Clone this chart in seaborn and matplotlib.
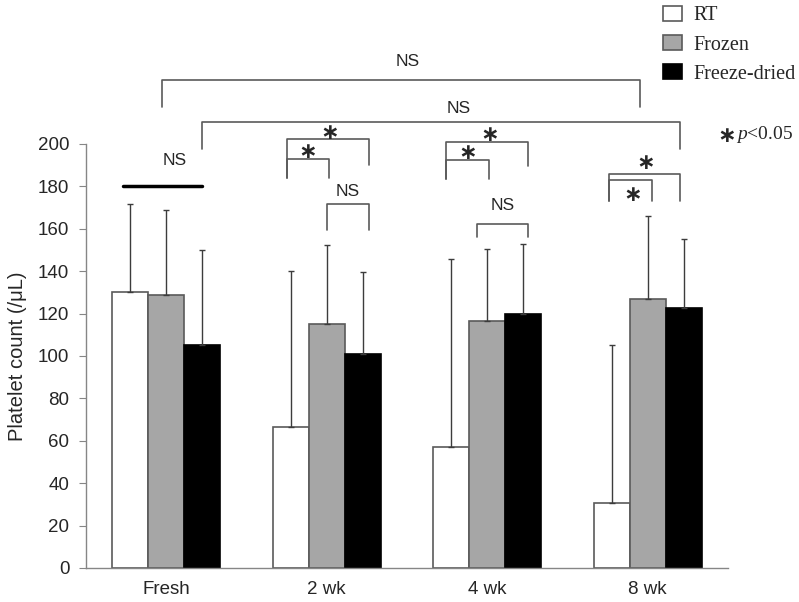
import matplotlib
matplotlib.use("Agg")
import matplotlib.pyplot as plt
import numpy as np
import pandas as pd
import seaborn as sns
from matplotlib.patches import Patch

groups = ["Fresh", "2 wk", "4 wk", "8 wk"]
conditions = ["RT", "Frozen", "Freeze-dried"]
rt_mean = [130, 66.5, 57, 30.5]
frozen_mean = [129, 115, 116.5, 127]
dried_mean = [105, 101, 120, 122.5]
rt_sd = [41.5, 73.7, 88.7, 74.7]
frozen_sd = [40, 37.5, 33.8, 39]
dried_sd = [45, 38.6, 32.8, 32.8]

fill_colors = ["#ffffff", "#a6a6a6", "#000000"]
edge_colors = ["#5a5a5a", "#5a5a5a", "#000000"]

sns.set_style("white")
plt.rcParams["font.family"] = ["Liberation Sans", "DejaVu Sans"]
plt.rcParams["mathtext.fontset"] = "custom"
plt.rcParams["mathtext.it"] = "Liberation Serif:italic"
plt.rcParams["mathtext.rm"] = "Liberation Serif"

df = pd.DataFrame({
    "week": groups * 3,
    "condition": np.repeat(conditions, len(groups)),
    "count": rt_mean + frozen_mean + dried_mean,
})

fig = plt.figure(figsize=(7.99, 6.02), dpi=100)
ax = fig.add_axes([86 / 799, 1 - 568 / 602, 642 / 799, 424 / 602])

sns.barplot(data=df, x="week", y="count", hue="condition", order=groups,
            hue_order=conditions, palette=fill_colors, width=0.67,
            errorbar=None, linewidth=1.2, legend=False, ax=ax)

for container, sd, ec in zip(ax.containers, [rt_sd, frozen_sd, dried_sd], edge_colors):
    xs, ys = [], []
    for bar in container:
        bar.set_edgecolor(ec)
        xs.append(bar.get_x() + bar.get_width() / 2)
        ys.append(bar.get_height())
    ax.errorbar(xs, ys, yerr=[np.zeros(len(sd)), sd], fmt="none",
                ecolor="#3c3c3c", elinewidth=1.0, capsize=2, capthick=1.0, zorder=1)

ax.set_xlim(-0.5, 3.5)
ax.set_ylim(0, 200)
ax.set_yticks(np.arange(0, 201, 20))
ax.set_xticks(range(len(groups)))
ax.set_xticklabels(groups)
ax.set_xticks(np.arange(-0.5, 3.6, 1), minor=True)
ax.tick_params(axis="x", which="major", length=0, pad=9, labelsize=13.5)
ax.tick_params(axis="x", which="minor", length=4, color="#868686", direction="out")
ax.tick_params(axis="y", length=5, color="#868686", direction="out", left=True,
               pad=7, labelsize=13.5)
ax.set_xlabel("")
ax.set_ylabel("Platelet count (/\u03bcL)", fontsize=14.5, labelpad=8)
sns.despine(ax=ax)
for side in ["left", "bottom"]:
    ax.spines[side].set_color("#868686")
    ax.spines[side].set_linewidth(1.0)

line_kw = dict(color="#5a5a5a", lw=1.2, clip_on=False)


def bracket(x0, x1, top, left_bottom, right_bottom):
    ax.plot([x0, x0, x1, x1], [left_bottom, top, top, right_bottom], **line_kw)


def star(x, y):
    ax.text(x, y, "\u2217", ha="center", va="center", fontsize=16,
            family="DejaVu Sans", fontweight="bold", clip_on=False)


def ns(x, y):
    ax.text(x, y, "NS", ha="center", va="center", fontsize=12.5, clip_on=False)


# overall comparisons
bracket(-0.025, 2.954, 230.2, 217.5, 217.5)
ns(1.505, 238.8)
bracket(0.224, 3.202, 210.5, 197.6, 197.6)
ns(1.82, 216.8)

# fresh
ax.plot([-0.27, 0.22], [180.3, 180.3], color="black", lw=2.5, clip_on=False)
ns(0.05, 192.0)

# 2 wk
bracket(0.752, 1.263, 202.2, 184, 190)
bracket(0.752, 1.017, 192.8, 184, 184)
star(1.016, 205.0)
star(0.883, 196.0)
bracket(1.0, 1.263, 171.7, 159.4, 159.4)
ns(1.132, 177.8)

# 4 wk
bracket(1.740, 2.257, 201.0, 183.3, 189.6)
bracket(1.740, 2.011, 192.3, 183.3, 183.3)
star(2.013, 204.2)
star(1.88, 195.6)
bracket(1.936, 2.257, 162.4, 156, 156)
ns(2.098, 171.2)

# 8 wk
bracket(2.758, 3.202, 186.0, 173, 173)
bracket(2.758, 3.024, 182.9, 173, 173)
star(2.984, 191.2)
star(2.908, 176.0)

# significance key
ax.text(3.49, 204.0, "\u2217", ha="center", va="center", fontsize=16,
        family="DejaVu Sans", fontweight="bold", clip_on=False)
ax.text(3.548, 204.7, "$p$<0.05", ha="left", va="center", fontsize=14,
        family="Liberation Serif", clip_on=False)

handles = [Patch(facecolor=fc, edgecolor=ec, linewidth=1.2)
           for fc, ec in zip(fill_colors, edge_colors)]
fig.legend(handles, conditions, loc="upper left", bbox_to_anchor=(657 / 799, 1.0),
           frameon=False, prop={"family": "Liberation Serif", "size": 14.5},
           handlelength=0.95, handleheight=0.75, handletextpad=0.55,
           labelspacing=0.48, borderaxespad=0.0, borderpad=0.3)

fig.savefig("out.png", dpi=100)
